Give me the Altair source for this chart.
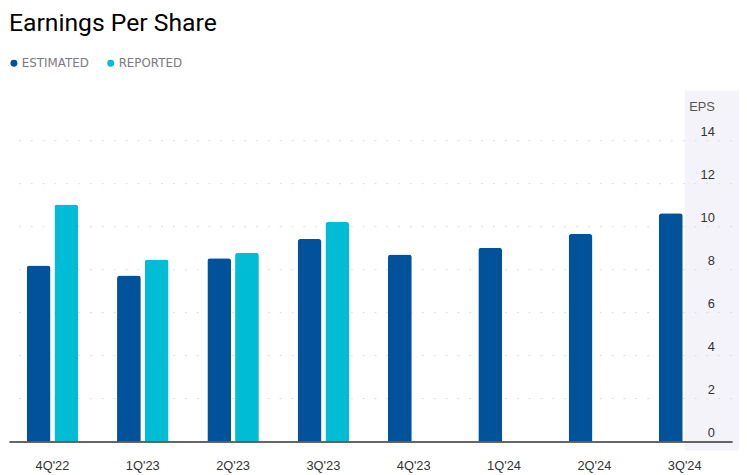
import altair as alt
import pandas as pd

quarters = ["4Q'22", "1Q'23", "2Q'23", "3Q'23", "4Q'23", "1Q'24", "2Q'24", "3Q'24"]
estimated = [8.19, 7.73, 8.53, 9.43, 8.71, 9.02, 9.66, 10.63]
reported = [11.03, 8.47, 8.79, 10.22, None, None, None, None]
series = ["ESTIMATED", "REPORTED"]
colors = ["#00529B", "#00BCD4"]
y_ticks = [0, 2, 4, 6, 8, 10, 12, 14]
grid_values = [2, 4, 6, 8, 10, 12, 14]
panel_quarter = ["3Q'24"]

rows = []
for q, e, r in zip(quarters, estimated, reported):
    rows.append({"q": q, "series": "ESTIMATED", "eps": e})
    if r is not None:
        rows.append({"q": q, "series": "REPORTED", "eps": r})
df = pd.DataFrame(rows)
grid_df = pd.DataFrame({"eps": grid_values})
panel_df = pd.DataFrame({"q": panel_quarter})

W = 732
H = 348

xscale = alt.Scale(domain=quarters, paddingInner=0.43, paddingOuter=0.218, align=0.45)
yscale = alt.Scale(domain=[0, 16], nice=False)

x_axis = alt.Axis(
    title=None,
    labelAngle=0,
    labelFont="Liberation Sans",
    labelFontSize=13,
    labelColor="#333333",
    labelPadding=18,
    tickSize=0,
    grid=False,
    domainColor="#333333",
    domainWidth=1.5,
    zindex=1,
)

y_axis = alt.Axis(
    orient="right",
    values=y_ticks,
    grid=False,
    domain=False,
    tickSize=0,
    labelAlign="right",
    labelPadding=-18,
    labelBaseline="alphabetic",
    labelOffset=-5,
    labelFont="Liberation Sans",
    labelFontSize=13,
    labelColor="#333333",
    title="EPS",
    titleAngle=0,
    titleAlign="right",
    titleBaseline="alphabetic",
    titleX=-18,
    titleY=13,
    titleFont="Liberation Sans",
    titleFontSize=13,
    titleFontWeight="normal",
    titleColor="#555555",
    zindex=1,
)

panel = alt.Chart(panel_df).mark_rect(color="#F4F3F9").encode(
    x=alt.X("q:N", scale=xscale, sort=quarters, bandPosition=0.5, axis=x_axis),
    x2=alt.value(W + 7),
    y=alt.value(-7),
    y2=alt.value(H + 9),
)

grid = alt.Chart(grid_df).mark_rule(color="#dcdcdc", strokeWidth=1, strokeDash=[2, 10]).encode(
    y=alt.Y("eps:Q", scale=yscale, axis=y_axis)
)

bars = alt.Chart(df).mark_bar(cornerRadiusTopLeft=3, cornerRadiusTopRight=3).encode(
    x=alt.X("q:N", scale=xscale, sort=quarters, axis=x_axis),
    xOffset=alt.XOffset("series:N", scale=alt.Scale(domain=series, paddingInner=0.143, paddingOuter=0)),
    y=alt.Y("eps:Q", scale=yscale, axis=y_axis),
    color=alt.Color(
        "series:N",
        scale=alt.Scale(domain=series, range=colors),
        legend=alt.Legend(
            title=None,
            orient="none",
            legendX=-1,
            legendY=-41,
            direction="horizontal",
            symbolType="circle",
            symbolSize=49,
            symbolStrokeWidth=0,
            labelFont="DejaVu Sans",
            labelFontSize=12,
            labelColor="#7a7a80",
            labelOffset=2,
            columnPadding=16,
            padding=0,
        ),
    ),
)

chart = alt.layer(panel, grid, bars).properties(
    width=W,
    height=H,
    padding=0,
    title=alt.Title(
        "Earnings Per Share",
        anchor="start",
        font="Roboto",
        fontSize=25,
        fontWeight="normal",
        color="#000000",
        baseline="alphabetic",
        offset=2,
        frame="group",
    ),
).configure_view(stroke=None)

chart.save("out.html", embed_options={"renderer": "svg", "actions": False})
